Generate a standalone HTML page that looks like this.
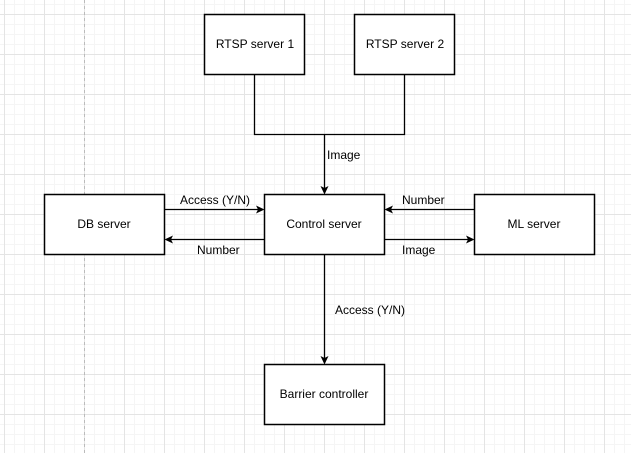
<!DOCTYPE html>
<html><head><style>
html,body{margin:0;padding:0;background:#fff;}
body{width:631px;height:453px;overflow:hidden;
background-image:
linear-gradient(to right,#e4e4e4 1px,transparent 1px),
linear-gradient(to bottom,#e4e4e4 1px,transparent 1px),
linear-gradient(to right,#f5f5f5 1px,transparent 1px),
linear-gradient(to bottom,#f5f5f5 1px,transparent 1px);
background-size:40px 40px,40px 40px,10px 10px,10px 10px;
background-position:4px 14px,4px 14px,4px 4px,4px 4px;}
svg{position:absolute;left:0;top:0;}
text{font-family:"Liberation Sans",sans-serif;font-size:12px;fill:#000;}
</style></head><body>
<svg width="631" height="453" xmlns="http://www.w3.org/2000/svg">
<line x1="84.5" y1="0" x2="84.5" y2="453" stroke="#bbb" stroke-dasharray="3,3"/>
<g fill="#fff" stroke="#000" stroke-width="1.5">
<rect x="204.5" y="14.5" width="100" height="60"/>
<rect x="354.5" y="14.5" width="100" height="60"/>
<rect x="44.5" y="194.5" width="120" height="60"/>
<rect x="264.5" y="194.5" width="120" height="60"/>
<rect x="474.5" y="194.5" width="120" height="60"/>
<rect x="264.5" y="364.5" width="120" height="60"/>
</g>
<g stroke="#000" stroke-width="1.3" fill="none">
<polyline points="254.5,74.5 254.5,134.5 404.5,134.5 404.5,74.5"/>
<line x1="324.5" y1="134.5" x2="324.5" y2="188"/>
<line x1="164.5" y1="209.5" x2="258" y2="209.5"/>
<line x1="264.5" y1="239.5" x2="171" y2="239.5"/>
<line x1="474.5" y1="209.5" x2="391" y2="209.5"/>
<line x1="384.5" y1="239.5" x2="468" y2="239.5"/>
<line x1="324.5" y1="254.5" x2="324.5" y2="358"/>
</g>
<g fill="#000">
<polygon points="324.5,194.5 320.5,186 324.5,188 328.5,186"/>
<polygon points="264.5,209.5 256,205.5 258,209.5 256,213.5"/>
<polygon points="164.5,239.5 173,235.5 171,239.5 173,243.5"/>
<polygon points="384.5,209.5 393,205.5 391,209.5 393,213.5"/>
<polygon points="474.5,239.5 466,235.5 468,239.5 466,243.5"/>
<polygon points="324.5,364.5 320.5,356 324.5,358 328.5,356"/>
</g>
<g text-anchor="middle">
<text x="255" y="48">RTSP server 1</text>
<text x="405" y="48">RTSP server 2</text>
<text x="104" y="228">DB server</text>
<text x="324" y="228">Control server</text>
<text x="534" y="228">ML server</text>
<text x="324" y="398">Barrier controller</text>
</g>
<text x="327" y="159">Image</text>
<text x="180" y="204">Access (Y/N)</text>
<text x="197" y="254">Number</text>
<text x="402" y="204">Number</text>
<text x="402" y="254">Image</text>
<text x="335" y="314">Access (Y/N)</text>
</svg>
</body></html>
